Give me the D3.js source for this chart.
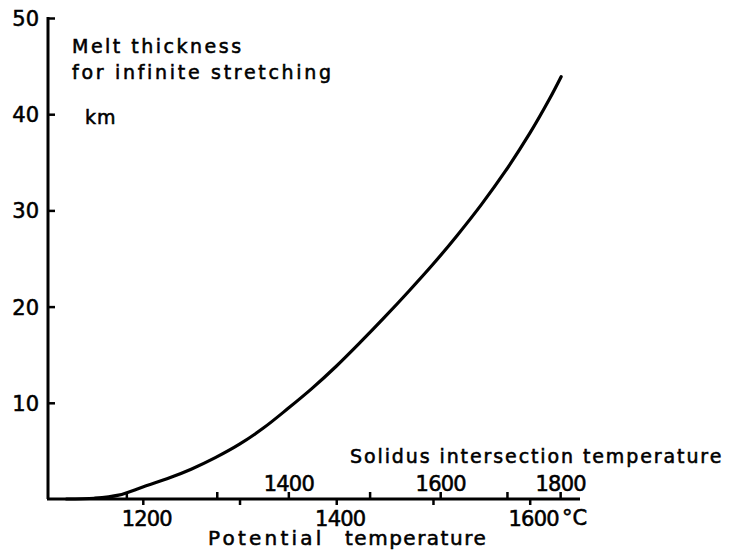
<!DOCTYPE html>
<html><head><meta charset="utf-8">
<script src="https://cdn.jsdelivr.net/npm/d3@7"></script>
<style>
body{margin:0;background:#fff}
text{font-family:"DejaVu Sans",sans-serif;fill:#000;stroke:#000;stroke-width:0.55px}
</style></head><body>
<svg id="c" width="737" height="550"></svg>
<script>
// Curve: potential temperature (°C) vs melt thickness (km)
const potentialT = [1121, 1150, 1175, 1200, 1225, 1250, 1275, 1300, 1325, 1350, 1375, 1400, 1425, 1450, 1475, 1500, 1525, 1550, 1575, 1600, 1620, 1632.5];
const meltKm     = [0,    0.08, 0.4,  1.25, 2.1,  3.1,  4.3,  5.7,  7.4,  9.4,  11.5, 13.8, 16.3, 18.9, 21.6, 24.4, 27.4, 30.6, 34.1, 38.0, 41.5, 43.9];
// Bottom axis (potential temperature)
const potTicks = [1200, 1300, 1400, 1500, 1600];
const potLabels = [1200, 1400, 1600];
// Secondary scale (solidus intersection temperature) and its position in potential temperature
const solidusTicks = [1200, 1300, 1400, 1500, 1600, 1700, 1800];
const solidusAtPot = [1183.5, 1277, 1351, 1435, 1508, 1577, 1632];
const solidusLabels = [1400, 1600, 1800];
// Y axis
const yTicks = [10, 20, 30, 40, 50];

const svg = d3.select("#c");
const x = d3.scaleLinear().domain([1102, 1652]).range([48, 580]);
const y = d3.scaleLinear().domain([0, 50]).range([499, 18]);
const sol = d3.scaleLinear().domain(solidusTicks).range(solidusAtPot);

// Y axis
const ya = svg.append("g").attr("transform","translate(48,0)")
  .call(d3.axisLeft(y).tickValues(yTicks).tickSize(-7).tickSizeOuter(0));
ya.select(".domain").attr("stroke","#000").attr("stroke-width",3).attr("d","M0,499V17");
ya.selectAll(".tick line").attr("stroke","#000").attr("stroke-width",2.5);
ya.selectAll(".tick text").attr("font-size",21).attr("font-family","DejaVu Sans")
  .attr("x",-9).attr("dy","0.36em").attr("letter-spacing",0);

// Bottom axis (downward ticks, potential temperature)
const xa = svg.append("g").attr("transform","translate(0,499)")
  .call(d3.axisBottom(x).tickValues(potTicks).tickSize(6).tickFormat("").tickSizeOuter(0));
xa.select(".domain").attr("stroke","#000").attr("stroke-width",3).attr("d","M47,0H580");
xa.selectAll(".tick line").attr("stroke","#000").attr("stroke-width",2.5);

// Upward ticks (solidus intersection temperature)
svg.append("g").selectAll("line").data(solidusTicks).join("line")
  .attr("x1",d=>x(sol(d))).attr("x2",d=>x(sol(d)))
  .attr("y1",499).attr("y2",492).attr("stroke","#000").attr("stroke-width",2.5);

// Bottom labels
svg.append("g").selectAll("text").data(potLabels).join("text")
  .attr("x",d=>x(d)+4).attr("y",526).attr("text-anchor","middle")
  .attr("font-size",21).attr("letter-spacing",-0.8)
  .text(d=>d);
svg.append("text").attr("x",562).attr("y",525).attr("font-size",21).text("°C");

// Solidus labels
svg.append("g").selectAll("text").data(solidusLabels).join("text")
  .attr("x",d=>x(sol(d))).attr("y",491).attr("text-anchor","middle")
  .attr("font-size",21).attr("letter-spacing",-0.8)
  .text(d=>d);

svg.append("text").attr("x",350).attr("y",463).attr("font-size",19).attr("letter-spacing",1.9)
  .text("Solidus intersection temperature");
svg.append("text").attr("x",208).attr("y",545).attr("font-size",20).attr("letter-spacing",3.2)
  .text("Potential");
svg.append("text").attr("x",345).attr("y",545).attr("font-size",20).attr("letter-spacing",1.5)
  .text("temperature");

// Title text
svg.append("text").attr("x",72).attr("y",53).attr("font-size",19).attr("letter-spacing",2.5).text("Melt thickness");
svg.append("text").attr("x",72).attr("y",79).attr("font-size",19).attr("letter-spacing",2.7).text("for infinite stretching");
svg.append("text").attr("x",85).attr("y",124).attr("font-size",19).attr("letter-spacing",1).text("km");

// Curve
const pts = potentialT.map((t,i)=>[t, meltKm[i]]);
svg.append("path").datum(pts)
  .attr("fill","none").attr("stroke","#000").attr("stroke-width",3.2).attr("stroke-linecap","round")
  .attr("d", d3.line().x(d=>x(d[0])).y(d=>y(d[1])).curve(d3.curveCatmullRom.alpha(0.5)));
</script>
</body></html>
